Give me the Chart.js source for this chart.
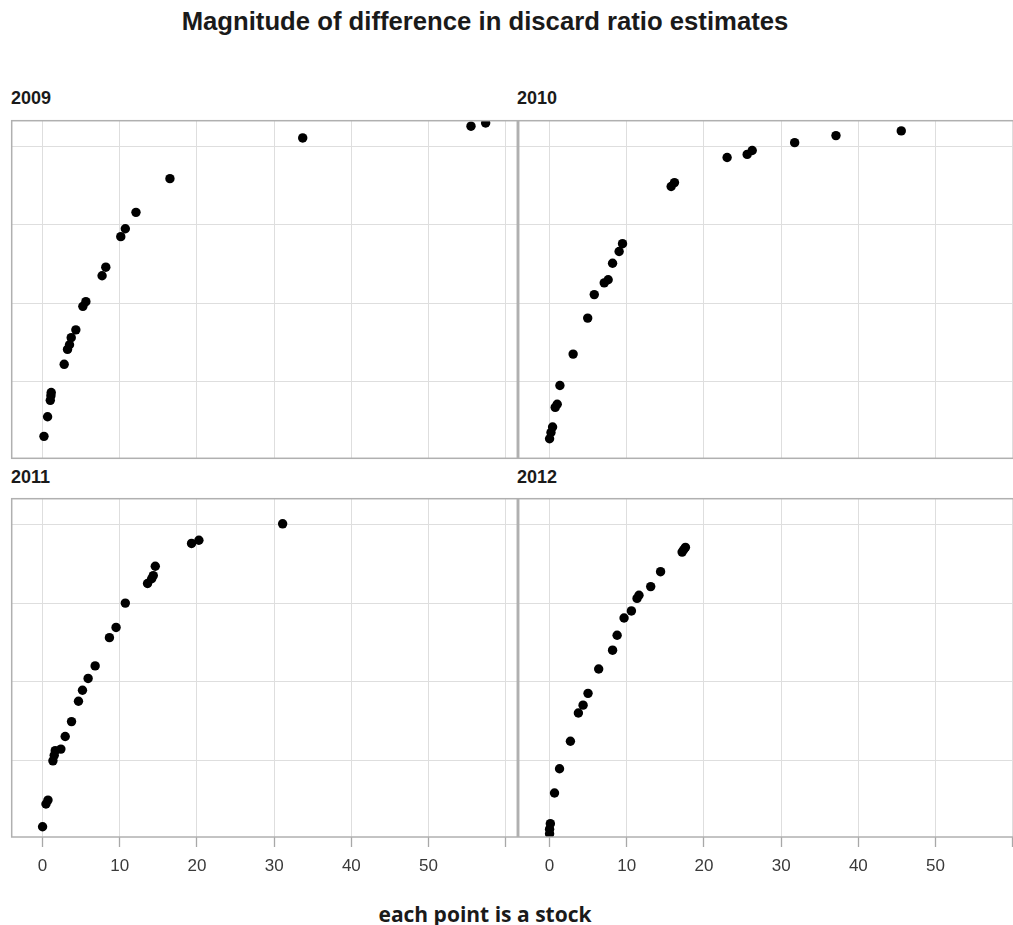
<!DOCTYPE html>
<html>
<head>
<meta charset="utf-8">
<script src="https://cdn.jsdelivr.net/npm/chart.js@4.4.1/dist/chart.umd.min.js"></script>
<style>
  html, body { margin:0; padding:0; background:#fff; width:1013px; height:925px; overflow:hidden; position:relative; }
  .t { position:absolute; white-space:nowrap; color:#1a1a1a; line-height:1; }
  canvas { position:absolute; }
</style>
</head>
<body>
<div class="t" style="left:0;width:970px;text-align:center;top:7px;font:bold 25.7px 'Liberation Sans', Arial, sans-serif;">Magnitude of difference in discard ratio estimates</div>
<div class="t" id="lab0" style="left:11px;top:88px;font:bold 18px 'Liberation Sans', Arial, sans-serif;"></div>
<div class="t" id="lab1" style="left:517px;top:88px;font:bold 18px 'Liberation Sans', Arial, sans-serif;"></div>
<div class="t" id="lab2" style="left:11px;top:467px;font:bold 18px 'Liberation Sans', Arial, sans-serif;"></div>
<div class="t" id="lab3" style="left:517px;top:467px;font:bold 18px 'Liberation Sans', Arial, sans-serif;"></div>
<div class="t" style="left:0;width:970px;text-align:center;top:900px;font:bold 21px 'Open Sans', sans-serif;">each point is a stock</div>

<canvas id="c0" width="515" height="347" style="left:7px;top:116px;width:515px;height:347px;"></canvas>
<canvas id="c1" width="515" height="347" style="left:514px;top:116px;width:515px;height:347px;"></canvas>
<canvas id="c2" width="515" height="383" style="left:7px;top:494px;width:515px;height:383px;"></canvas>
<canvas id="c3" width="515" height="383" style="left:514px;top:494px;width:515px;height:383px;"></canvas>

<script>
// ---- data ----
const panelLabels = ['2009', '2010', '2011', '2012'];
const xTicks = [0, 10, 20, 30, 40, 50, 60];
const yGrid = [1, 2, 3, 4];

const x2009 = [0.18, 0.65, 1.0, 1.08, 1.12, 2.8, 3.23, 3.49, 3.71, 4.31, 5.22, 5.61, 7.71, 8.19, 10.13, 10.72, 12.1, 16.5, 33.7, 55.5, 57.4];
const y2009 = [0.30, 0.55, 0.76, 0.82, 0.86, 1.22, 1.41, 1.47, 1.56, 1.66, 1.96, 2.02, 2.35, 2.46, 2.85, 2.95, 3.16, 3.59, 4.11, 4.26, 4.30];

const x2010 = [0.0, 0.18, 0.39, 0.73, 0.99, 1.34, 3.05, 4.94, 5.79, 7.08, 7.59, 8.16, 9.01, 9.45, 15.75, 16.18, 23.0, 25.6, 26.25, 31.75, 37.1, 45.56];
const y2010 = [0.27, 0.35, 0.42, 0.67, 0.71, 0.95, 1.35, 1.81, 2.11, 2.26, 2.30, 2.51, 2.66, 2.76, 3.49, 3.54, 3.86, 3.90, 3.95, 4.05, 4.14, 4.20];

const x2011 = [0.0, 0.44, 0.70, 1.34, 1.51, 1.64, 2.37, 2.93, 3.75, 4.65, 5.17, 5.9, 6.81, 8.66, 9.52, 10.72, 13.6, 14.13, 14.34, 14.6, 19.3, 20.25, 31.1];
const y2011 = [0.15, 0.44, 0.49, 0.99, 1.06, 1.12, 1.14, 1.30, 1.49, 1.75, 1.89, 2.04, 2.20, 2.56, 2.69, 3.00, 3.25, 3.31, 3.35, 3.47, 3.76, 3.80, 4.01];

const x2012 = [0.0, 0.0, 0.1, 0.64, 1.29, 2.7, 3.73, 4.34, 4.98, 6.36, 8.16, 8.75, 9.65, 10.6, 11.33, 11.58, 13.1, 14.38, 17.17, 17.37, 17.6];
const y2012 = [0.06, 0.12, 0.19, 0.58, 0.89, 1.24, 1.60, 1.70, 1.85, 2.16, 2.40, 2.59, 2.81, 2.90, 3.06, 3.10, 3.21, 3.40, 3.65, 3.68, 3.71];

const X_MIN = -4, X_MAX = 61.5;
const Y_MIN = 0.02, Y_MAX = 4.33;

// ---- styling ----
const GRID = '#dedede';
const FRAME = '#b0b0b0';
const PAD = 4;

const frame = {
  id: 'frame',
  afterDraw(c) {
    const a = c.chartArea, ctx = c.ctx;
    ctx.save();
    ctx.strokeStyle = FRAME;
    ctx.lineWidth = 1.5;
    ctx.strokeRect(a.left, a.top, a.right - a.left, a.bottom - a.top);
    ctx.restore();
  }
};

function makePanel(id, xs, ys, showX) {
  const pts = xs.map((x, i) => ({ x: x, y: ys[i] }));
  return new Chart(document.getElementById(id), {
    type: 'scatter',
    data: { datasets: [{ data: pts, pointRadius: 4.7, pointHoverRadius: 4.7, backgroundColor: '#000', borderWidth: 0, clip: 0 }] },
    options: {
      responsive: false, maintainAspectRatio: false, animation: false,
      events: [],
      layout: { padding: { left: PAD, right: PAD, top: PAD, bottom: showX ? 0 : PAD } },
      plugins: { legend: { display: false }, tooltip: { enabled: false }, title: { display: false } },
      scales: {
        x: {
          type: 'linear', min: X_MIN, max: X_MAX,
          afterBuildTicks: s => { s.ticks = xTicks.map(v => ({ value: v })); },
          afterFit: s => { if (showX) s.height = 40; },
          border: { display: false },
          grid: { color: GRID, lineWidth: 1, drawTicks: showX, tickLength: 10, tickColor: '#a8a8a8', tickWidth: 1.3 },
          ticks: {
            display: showX, padding: 9, maxRotation: 0, autoSkip: false, color: '#3a3a3a',
            font: { family: "'Liberation Sans', Arial, sans-serif", size: 17 },
            callback: v => (v === 60 ? '' : String(v))
          }
        },
        y: {
          type: 'linear', min: Y_MIN, max: Y_MAX,
          afterBuildTicks: s => { s.ticks = yGrid.map(v => ({ value: v })); },
          border: { display: false },
          grid: { color: GRID, lineWidth: 1, drawTicks: false },
          ticks: { display: false }
        }
      }
    },
    plugins: [frame]
  });
}

panelLabels.forEach((t, i) => { document.getElementById('lab' + i).textContent = t; });
makePanel('c0', x2009, y2009, false);
makePanel('c1', x2010, y2010, false);
makePanel('c2', x2011, y2011, true);
makePanel('c3', x2012, y2012, true);
</script>
</body>
</html>
